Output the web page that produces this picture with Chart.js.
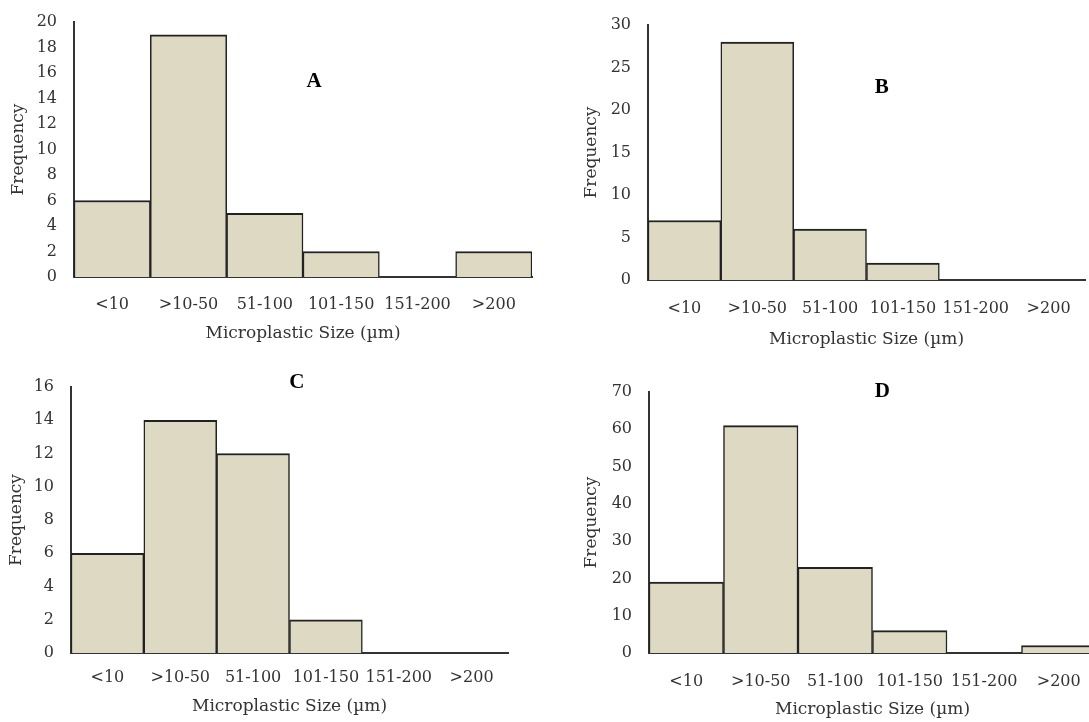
<!DOCTYPE html>
<html>
<head>
<meta charset="utf-8">
<script src="https://cdn.jsdelivr.net/npm/chart.js@4.4.1/dist/chart.umd.min.js"></script>
<style>
  html, body { margin: 0; padding: 0; background: #fff; overflow: hidden; }
  body { width: 1089px; height: 722px; position: relative; }
  canvas { position: absolute; }
</style>
</head>
<body>
<canvas id="chartA" width="545" height="350" style="left:0;top:0"></canvas>
<canvas id="chartB" width="544" height="360" style="left:545px;top:0"></canvas>
<canvas id="chartC" width="545" height="362" style="left:0;top:360px"></canvas>
<canvas id="chartD" width="580" height="362" style="left:545px;top:360px"></canvas>
<script>
// size classes, shared by all four panels
const sizeLabels = ['<10', '>10-50', '51-100', '101-150', '151-200', '>200'];

// frequencies
const freqA = [6, 19, 5, 2, 0, 2];
const freqB = [7, 28, 6, 2, 0, 0];
const freqC = [6, 14, 12, 2, 0, 0];
const freqD = [19, 61, 23, 6, 0, 2];

// y-axis ranges
const yMaxA = 20, yStepA = 2;
const yMaxB = 30, yStepB = 5;
const yMaxC = 16, yStepC = 2;
const yMaxD = 70, yStepD = 10;

const textColor = '#333333';
const serif = 'DejaVu Serif';

// draws the panel letter (A, B, ...) inside the plot area
const panelLetter = {
    id: 'panelLetter',
    afterDraw(chart, args, opts) {
        const a = chart.chartArea;
        const ctx = chart.ctx;
        ctx.save();
        ctx.font = 'bold 21px "Liberation Serif"';
        ctx.fillStyle = '#000';
        ctx.textAlign = 'center';
        ctx.textBaseline = 'middle';
        ctx.fillText(opts.text, a.left + (a.right - a.left) * opts.fx, a.top + (a.bottom - a.top) * opts.fy);
        ctx.restore();
    }
};

function makeChart(id, letter, values, yMax, yStep, g) {
    const canvas = document.getElementById(id);
    const H = canvas.height;
    new Chart(canvas.getContext('2d'), {
        type: 'bar',
        data: {
            labels: sizeLabels,
            datasets: [{
                data: values,
                backgroundColor: '#DDD9C3',
                borderColor: '#222222',
                borderWidth: { top: 2, left: 1.5, right: 1.5, bottom: 0 },
                borderSkipped: 'start',
                categoryPercentage: 1,
                barPercentage: 1
            }]
        },
        options: {
            responsive: false,
            animation: false,
            devicePixelRatio: 1,
            layout: {
                padding: { left: 0, top: g.top, right: canvas.width - g.right, bottom: H - g.bottom - g.xh }
            },
            plugins: {
                legend: { display: false },
                tooltip: { enabled: false },
                panelLetter: { text: letter, fx: g.fx, fy: g.fy }
            },
            scales: {
                x: {
                    grid: { display: false },
                    border: { display: true, color: '#333333', width: 2 },
                    ticks: { color: textColor, font: { family: serif, size: 16 }, padding: g.tp, maxRotation: 0, autoSkip: false },
                    title: { display: true, text: 'Microplastic Size (µm)', color: textColor, font: { family: serif, size: 17 }, padding: 0 },
                    afterFit: s => { s.height = g.xh; }
                },
                y: {
                    min: 0,
                    max: yMax,
                    grid: { display: false },
                    border: { display: true, color: '#333333', width: 2 },
                    ticks: { stepSize: yStep, color: textColor, font: { family: serif, size: 16 }, padding: 9 },
                    title: { display: true, text: 'Frequency', color: textColor, font: { family: serif, size: 17 }, padding: { top: g.yt, bottom: 0 } },
                    afterFit: s => { s.width = g.left; }
                }
            }
        },
        plugins: [panelLetter]
    });
}

makeChart('chartA', 'A', freqA, yMaxA, yStepA, { left: 74, right: 532, top: 22, bottom: 277, xh: 67, tp: 10, yt: 8.8, fx: 0.524, fy: 0.235 });
makeChart('chartB', 'B', freqB, yMaxB, yStepB, { left: 103, right: 540, top: 25, bottom: 280, xh: 70, tp: 11, yt: 36.8, fx: 0.535, fy: 0.247 });
makeChart('chartC', 'C', freqC, yMaxC, yStepC, { left: 71, right: 508, top: 27, bottom: 293, xh: 64, tp: 7, yt: 6.8, fx: 0.517, fy: -0.015 });
makeChart('chartD', 'D', freqD, yMaxD, yStepD, { left: 104, right: 551, top: 32, bottom: 293, xh: 67, tp: 11, yt: 36.8, fx: 0.522, fy: 0 });
</script>
</body>
</html>
